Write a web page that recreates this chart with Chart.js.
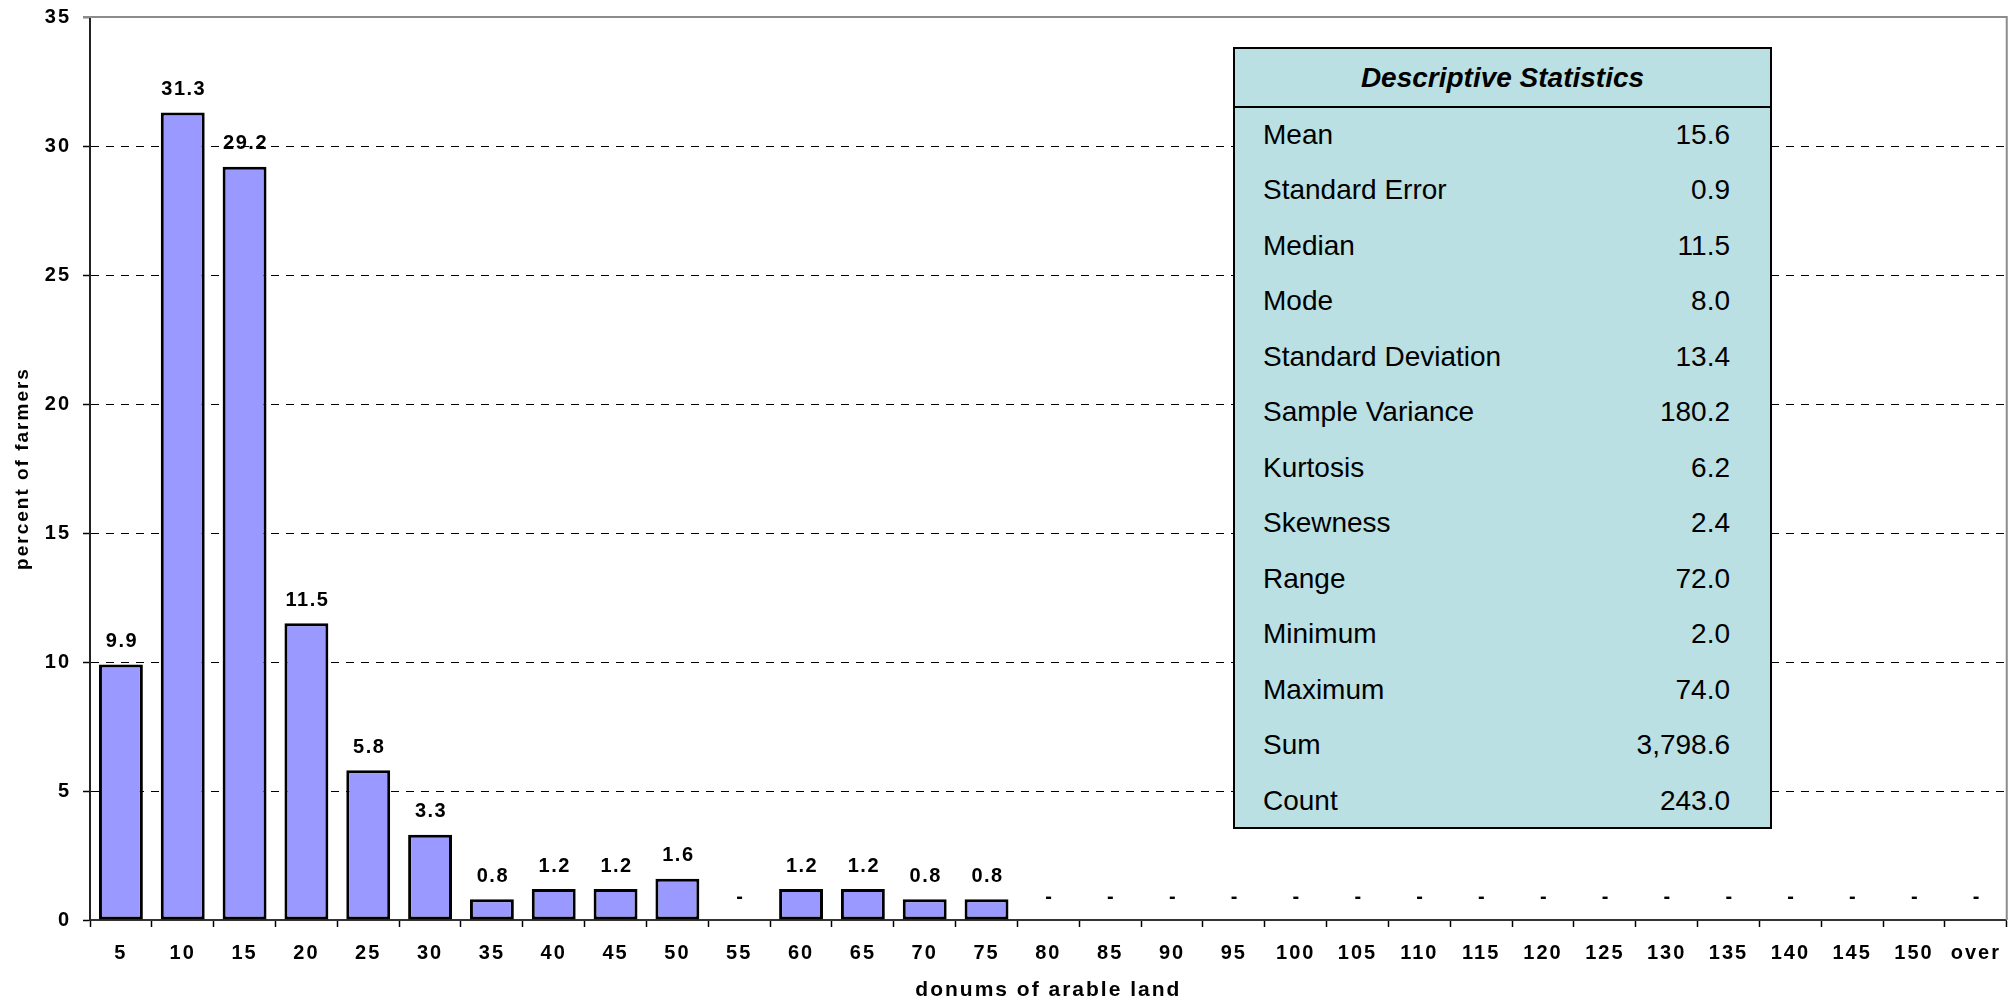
<!DOCTYPE html>
<html>
<head>
<meta charset="utf-8">
<title>Arable land per farmer</title>
<script src="https://cdn.jsdelivr.net/npm/chart.js@4.4.1/dist/chart.umd.min.js"></script>
<style>
    html, body { margin: 0; padding: 0; background: #fff; }
    #wrap { position: relative; width: 2015px; height: 1004px; }
    #landChart { position: absolute; left: 0; top: 0; }
    #stats {
        position: absolute;
        left: 1233px;
        top: 47px;
        width: 539px;
        height: 782px;
        box-sizing: border-box;
        background: #bae0e3;
        border: 2.5px solid #000;
        font-family: "Liberation Sans", Arial, sans-serif;
        color: #000;
    }
    #stats .head {
        position: absolute;
        left: 0; right: 0; top: 0;
        height: 57px;
        line-height: 57px;
        border-bottom: 2px solid #000;
        text-align: center;
        font-size: 28px;
        font-weight: bold;
        font-style: italic;
    }
    #stats .row {
        position: absolute;
        left: 28px;
        right: 40px;
        height: 55.5px;
        line-height: 55.5px;
        font-size: 28px;
    }
    #stats .row span:last-child { float: right; }
</style>
</head>
<body>
<div id="wrap">
    <canvas id="landChart" width="2015" height="1004"></canvas>
    <div id="stats"></div>
</div>
<script>
// histogram bins (upper bound of each 5-donum class)
const landBins = ['5', '10', '15', '20', '25', '30', '35', '40', '45', '50', '55', '60', '65', '70', '75',
    '80', '85', '90', '95', '100', '105', '110', '115', '120', '125', '130', '135', '140', '145', '150', 'over'];
const percentFarmers = [9.9, 31.3, 29.2, 11.5, 5.8, 3.3, 0.8, 1.2, 1.2, 1.6, 0, 1.2, 1.2, 0.8, 0.8,
    0, 0, 0, 0, 0, 0, 0, 0, 0, 0, 0, 0, 0, 0, 0, 0];
const yTicks = [0, 5, 10, 15, 20, 25, 30, 35];

const statLabels = ['Mean', 'Standard Error', 'Median', 'Mode', 'Standard Deviation', 'Sample Variance',
    'Kurtosis', 'Skewness', 'Range', 'Minimum', 'Maximum', 'Sum', 'Count'];
const statValues = ['15.6', '0.9', '11.5', '8.0', '13.4', '180.2', '6.2', '2.4', '72.0', '2.0', '74.0', '3,798.6', '243.0'];

const FONT = '"Liberation Sans", Arial, sans-serif';

document.addEventListener('DOMContentLoaded', function() {
    // Descriptive statistics box
    const stats = document.getElementById('stats');
    const head = document.createElement('div');
    head.className = 'head';
    head.textContent = 'Descriptive Statistics';
    stats.appendChild(head);
    statLabels.forEach((label, i) => {
        const row = document.createElement('div');
        row.className = 'row';
        row.style.top = (57.5 + i * 55.5) + 'px';
        row.innerHTML = '<span></span><span></span>';
        row.children[0].textContent = label;
        row.children[1].textContent = statValues[i];
        stats.appendChild(row);
    });

    // wide Excel-like lettering for the chart text
    const spacing = {
        id: 'spacing',
        beforeUpdate(chart) { chart.ctx.letterSpacing = '2px'; },
        beforeDraw(chart) { chart.ctx.letterSpacing = '2px'; }
    };

    // gray plot-area frame on top and right
    const plotFrame = {
        id: 'plotFrame',
        beforeDatasetsDraw(chart) {
            const { ctx, chartArea } = chart;
            ctx.save();
            ctx.strokeStyle = '#8c8c8c';
            ctx.lineWidth = 2;
            ctx.beginPath();
            ctx.moveTo(chartArea.left - 7, chartArea.top);
            ctx.lineTo(chartArea.right, chartArea.top);
            ctx.lineTo(chartArea.right, chartArea.bottom);
            ctx.stroke();
            ctx.restore();
        }
    };

    // value labels above the bars, "-" for empty classes
    const barLabels = {
        id: 'barLabels',
        afterDatasetsDraw(chart) {
            const ctx = chart.ctx;
            const meta = chart.getDatasetMeta(0);
            ctx.save();
            ctx.letterSpacing = '1.5px';
            ctx.font = 'bold 20px ' + FONT;
            ctx.fillStyle = '#000';
            ctx.textAlign = 'center';
            ctx.textBaseline = 'middle';
            meta.data.forEach((bar, i) => {
                const v = percentFarmers[i];
                const text = v === 0 ? '-' : v.toFixed(1);
                ctx.fillText(text, bar.x + 1, bar.y - 23);
            });
            ctx.restore();
        }
    };

    const ctx = document.getElementById('landChart').getContext('2d');
    new Chart(ctx, {
        type: 'bar',
        data: {
            labels: landBins,
            datasets: [{
                label: 'percent of farmers',
                data: percentFarmers,
                backgroundColor: '#9999ff',
                borderColor: '#000',
                borderWidth: c => (percentFarmers[c.dataIndex] === 0 ? 0 : 3),
                borderSkipped: false,
                categoryPercentage: 1,
                barPercentage: 0.71
            }]
        },
        options: {
            responsive: false,
            animation: false,
            devicePixelRatio: 1,
            layout: {
                padding: { top: 17, right: 3, bottom: 0, left: 0 }
            },
            plugins: {
                legend: { display: false },
                tooltip: { enabled: false }
            },
            scales: {
                x: {
                    grid: {
                        offset: true,
                        drawOnChartArea: false,
                        drawTicks: true,
                        tickLength: 7,
                        tickColor: '#000',
                        tickWidth: 1.5
                    },
                    border: { color: '#333', width: 2 },
                    ticks: {
                        color: '#000',
                        padding: 14,
                        maxRotation: 0,
                        autoSkip: false,
                        font: { family: FONT, size: 20, weight: 'bold' }
                    },
                    title: {
                        display: true,
                        text: 'donums of arable land',
                        color: '#000',
                        padding: { top: 0, bottom: 1 },
                        font: { family: FONT, size: 21, weight: 'bold' }
                    },
                    afterFit: function(scale) { scale.height = 84; }
                },
                y: {
                    min: 0,
                    max: 35,
                    afterBuildTicks: function(scale) {
                        scale.ticks = yTicks.map(v => ({ value: v }));
                    },
                    grid: {
                        color: c => (c.tick && (c.tick.value === 0 || c.tick.value === 35) ? 'rgba(0,0,0,0)' : '#000'),
                        lineWidth: 1,
                        tickLength: 7,
                        tickColor: '#000',
                        tickWidth: 1.5,
                        tickBorderDash: []
                    },
                    border: { color: '#222', width: 2, dash: [8, 7] },
                    ticks: {
                        color: '#000',
                        padding: 12,
                        font: { family: FONT, size: 20, weight: 'bold', lineHeight: 0.4 }
                    },
                    title: {
                        display: true,
                        text: 'percent of farmers',
                        color: '#000',
                        padding: { top: 11, bottom: 0 },
                        font: { family: FONT, size: 19, weight: 'bold' }
                    },
                    afterFit: function(scale) { scale.width = 90; }
                }
            }
        },
        plugins: [spacing, plotFrame, barLabels]
    });
});
</script>
</body>
</html>
